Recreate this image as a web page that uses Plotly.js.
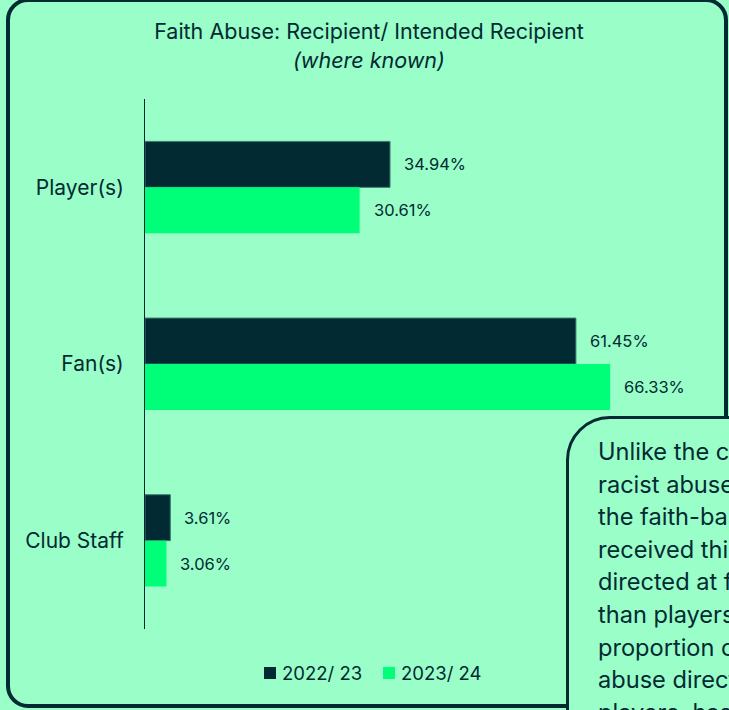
<!DOCTYPE html>
<html>
<head>
<meta charset="utf-8">
<script src="https://cdn.plot.ly/plotly-3.0.1.min.js"></script>
<style>
  html, body { margin:0; padding:0; width:729px; height:710px; overflow:hidden; background:#9afec8; }
  #chart { position:absolute; left:0; top:0; width:729px; height:710px; }
  #frame { position:absolute; left:6px; top:-2px; width:722px; height:710px; box-sizing:border-box;
           border:4px solid #022a33; border-radius:22px; pointer-events:none; z-index:2; }
  #callout { position:absolute; left:566px; top:416px; width:320px; height:420px; box-sizing:border-box;
             border:3px solid #022a33; border-radius:44px; background:#9afec8; z-index:3;
             padding:17px 0 0 29px; font-family:Inter, sans-serif; font-size:23.6px; line-height:32.6px;
             color:#022a33; white-space:nowrap; overflow:hidden; }
</style>
</head>
<body>
<div id="chart"></div>
<div id="frame"></div>
<div id="callout">Unlike the case of<br>racist abuse, most of<br>the faith-based abuse<br>received this season was<br>directed at fans rather<br>than players. The<br>proportion of faith<br>abuse directed at<br>players, has fallen.</div>
<script>
const categories = ["Player(s)", "Fan(s)", "Club Staff"];
const seriesNames = ["2022/ 23", "2023/ 24"];
const values2022 = [34.94, 61.45, 3.61];
const values2023 = [30.61, 66.33, 3.06];

const dark = "#022a33";
const green = "#00ff78";
const colors = [dark, green];
const font = "Inter, sans-serif";

const traces = [
  { type:"bar", orientation:"h", name:seriesNames[0], y:categories, x:values2022,
    marker:{color:dark, line:{color:"#3d7a72", width:1}}, hoverinfo:"none" },
  { type:"bar", orientation:"h", name:seriesNames[1], y:categories, x:values2023,
    marker:{color:green, line:{width:0}}, hoverinfo:"none" }
];

// plot area geometry (pixels) used only for placing the legend and subtitle
const L = 145, PW = 561, T = 99, PH = 530;
const px2x = p => (p - L) / PW;
const py2y = p => (T + PH - p) / PH;

const annotations = [];
const shapes = [];
const half = 0.13;
[values2022, values2023].forEach((vals, s) => {
  vals.forEach((v, i) => {
    annotations.push({
      x: v, y: i + (s === 0 ? -half : half), xref:"x", yref:"y",
      text: v.toFixed(2) + "%", showarrow:false, xanchor:"left", yanchor:"middle",
      xshift: 12, font:{family:font, size:16.5, color:dark}
    });
  });
});
annotations.push({
  text:"<i>(where known)</i>", xref:"paper", yref:"paper", x:px2x(369), y:py2y(60),
  xanchor:"center", yanchor:"middle", showarrow:false, font:{family:font, size:21.5, color:dark}
});

// custom legend
const legendSquares = [264, 383];
const legendY = 673;
seriesNames.forEach((n, s) => {
  const x0 = legendSquares[s];
  shapes.push({ type:"rect", xref:"paper", yref:"paper", x0:px2x(x0), x1:px2x(x0 + 12),
                y0:py2y(legendY + 6), y1:py2y(legendY - 6), fillcolor:colors[s], line:{width:0} });
  annotations.push({ text:n, xref:"paper", yref:"paper", x:px2x(x0 + 16), y:py2y(legendY),
                     xanchor:"left", yanchor:"middle", showarrow:false,
                     font:{family:font, size:18.5, color:dark} });
});

const layout = {
  width:729, height:710,
  margin:{l:L, r:729 - L - PW, t:T, b:710 - T - PH},
  paper_bgcolor:"#9afec8", plot_bgcolor:"#9afec8",
  barmode:"group", bargap:0.48, bargroupgap:0,
  title:{ text:"Faith Abuse: Recipient/ Intended Recipient", x:369/729, xanchor:"center",
          y:1-31/710, yanchor:"middle", font:{family:font, size:21.5, color:dark} },
  xaxis:{ range:[0,80], showticklabels:false, showgrid:false, zeroline:false, showline:false, fixedrange:true },
  yaxis:{ type:"category", autorange:"reversed", showline:true, linecolor:dark, linewidth:1,
          ticks:"", showgrid:false, zeroline:false, ticklabelstandoff:16,
          tickfont:{family:font, size:21, color:dark}, fixedrange:true },
  showlegend:false,
  shapes: shapes,
  annotations: annotations
};

Plotly.newPlot("chart", traces, layout, {displayModeBar:false, staticPlot:true});
</script>
</body>
</html>
